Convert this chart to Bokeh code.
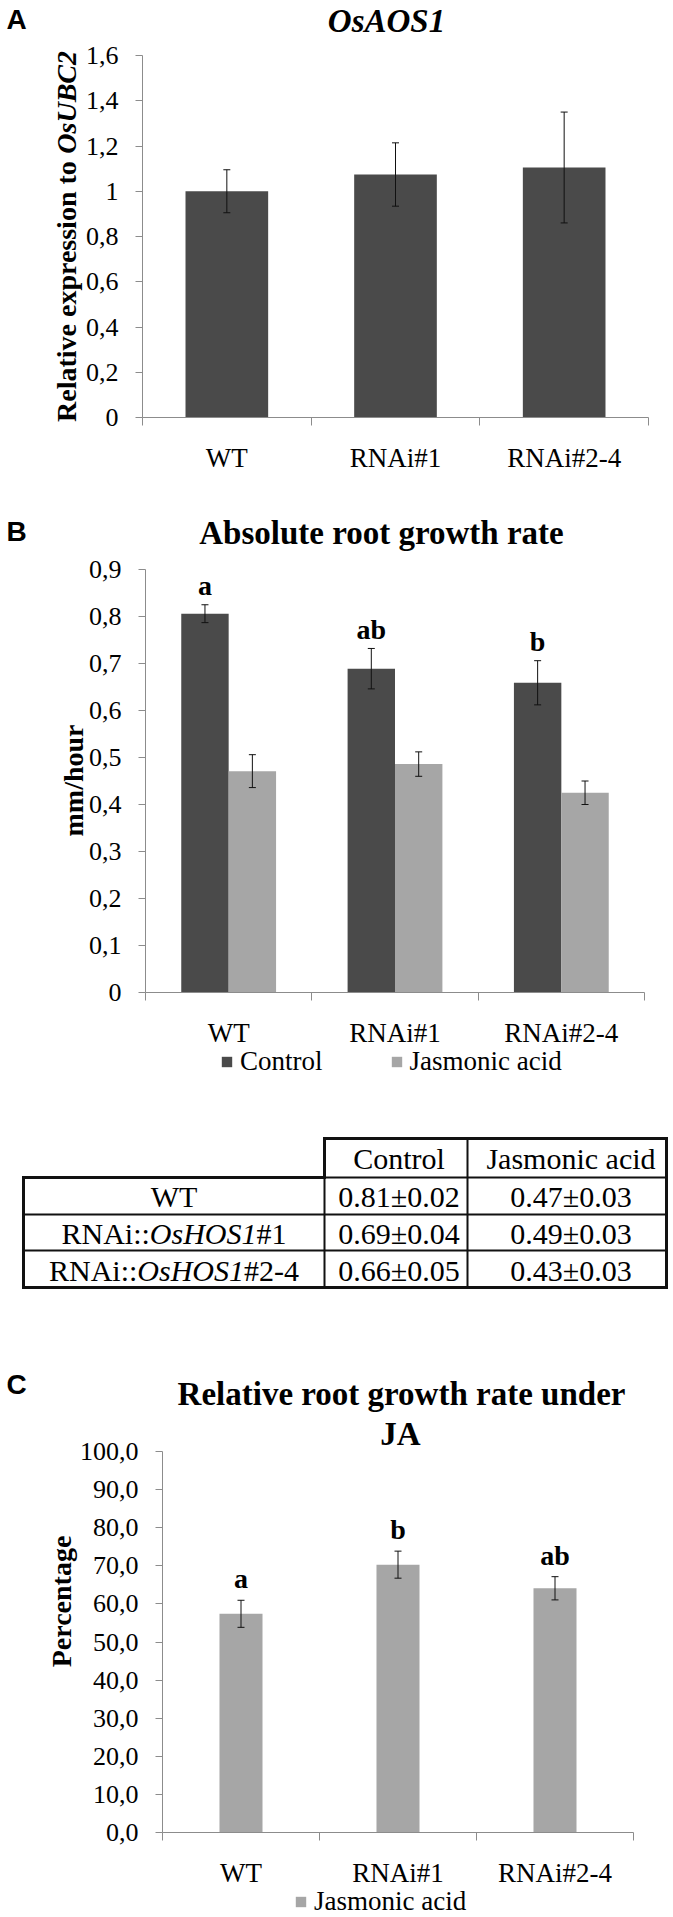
from math import pi
from bokeh.plotting import figure
from bokeh.models import (Range1d, FixedTicker, LinearAxis, Legend, LegendItem,
                          Whisker, TeeHead, ColumnDataSource, Grid)
from bokeh.layouts import column
from bokeh.core.properties import value
from bokeh.embed import file_html
from bokeh.resources import INLINE

# ---------------- data ----------------
categories = ["WT", "RNAi#1", "RNAi#2-4"]

aos1_mean = [1.00, 1.074, 1.105]
aos1_err = [0.095, 0.140, 0.245]
aos1_yticks = [0, 0.2, 0.4, 0.6, 0.8, 1.0, 1.2, 1.4, 1.6]
aos1_ylabels = ["0", "0,2", "0,4", "0,6", "0,8", "1", "1,2", "1,4", "1,6"]

root_control = [0.806, 0.689, 0.659]
root_control_err = [0.019, 0.043, 0.047]
root_ja = [0.471, 0.486, 0.425]
root_ja_err = [0.035, 0.026, 0.025]
root_letters = ["a", "ab", "b"]
root_yticks = [0, 0.1, 0.2, 0.3, 0.4, 0.5, 0.6, 0.7, 0.8, 0.9]
root_ylabels = ["0", "0,1", "0,2", "0,3", "0,4", "0,5", "0,6", "0,7", "0,8", "0,9"]

table_header = ["Control", "Jasmonic acid"]
table_rows = ["WT", "RNAi::OsHOS1#1", "RNAi::OsHOS1#2-4"]
table_gene = "OsHOS1"
table_control = ["0.81\u00b10.02", "0.69\u00b10.04", "0.66\u00b10.05"]
table_ja = ["0.47\u00b10.03", "0.49\u00b10.03", "0.43\u00b10.03"]

rel_mean = [57.4, 70.3, 64.1]
rel_err = [3.55, 3.55, 3.05]
rel_letters = ["a", "b", "ab"]
rel_yticks = [0, 10, 20, 30, 40, 50, 60, 70, 80, 90, 100]
rel_ylabels = ["0,0", "10,0", "20,0", "30,0", "40,0", "50,0", "60,0", "70,0",
               "80,0", "90,0", "100,0"]

# ---------------- style ----------------
W = 673
DARK = "#4a4a4a"
LIGHT = "#a6a6a6"
AXIS = "#8c8c8c"
SERIF = "Liberation Serif"
SANS = "Liberation Sans"
MID = 0.3375  # baseline -> middle of em box (fraction of font size)

# Times-metric widths (per 1000 em) for placing mixed-style text pieces
W_REG = {"R": 667, "N": 722, "A": 722, "i": 278, ":": 278, "#": 500, "1": 500,
         "2": 500, "4": 500, "-": 333, "W": 944, "T": 611}
W_ITA = {"O": 722, "s": 389, "H": 722, "S": 500, "1": 500}
W_BOLD = {"R": 722, "e": 444, "l": 278, "a": 500, "t": 333, "i": 278, "v": 500,
          " ": 250, "x": 500, "p": 556, "r": 444, "s": 389, "o": 500, "n": 556}
W_BI = {"O": 722, "s": 389, "U": 722, "B": 667, "C": 667, "2": 500}


def tw(s, table, size):
    return sum(table[c] for c in s) / 1000.0 * size


N = len(categories)
centers = [i + 0.5 for i in range(N)]
bounds = [float(i) for i in range(N + 1)]


def no_grid(p):
    for g in p.select(type=Grid):
        g.visible = False


def make_panel(off, H, left, right, top, bottom, ymax, yticks, ylabels):
    """Figure whose frame is the whole canvas; the chart area is the page
    rectangle [left,right]x[top,bottom]. Axes are fixed at x=0 and y=0."""
    sx = N / (right - left)
    xr = Range1d(-left * sx, N + (W - right) * sx)
    top_l, bot_l = top - off, bottom - off
    sy = ymax / (bot_l - top_l)
    yr = Range1d(-(H - bot_l) * sy, ymax + top_l * sy)
    p = figure(width=W, height=H, x_range=xr, y_range=yr, toolbar_location=None,
               output_backend="svg", title=None, min_border=0,
               x_axis_location=None, y_axis_location=None)
    p.extra_x_ranges = {"px": Range1d(0, W)}
    p.extra_y_ranges = {"px": Range1d(off + H, off)}
    p.outline_line_color = None
    no_grid(p)
    ya = LinearAxis(fixed_location=0, bounds=(0, ymax),
                    ticker=FixedTicker(ticks=yticks, minor_ticks=[]),
                    major_label_overrides=dict(zip(yticks, ylabels)),
                    axis_line_color=AXIS, major_tick_line_color=AXIS,
                    major_tick_out=7, major_tick_in=0, minor_tick_line_color=None,
                    major_label_text_font=SERIF, major_label_text_font_size="26px",
                    major_label_text_color="black", major_label_standoff=17)
    p.add_layout(ya, "left")
    xa = LinearAxis(fixed_location=0, bounds=(0, N),
                    ticker=FixedTicker(ticks=centers, minor_ticks=bounds),
                    major_label_overrides=dict(zip(centers, categories)),
                    axis_line_color=AXIS, major_tick_line_color=None,
                    major_tick_out=0, major_tick_in=0,
                    minor_tick_line_color=AXIS, minor_tick_out=8, minor_tick_in=0,
                    major_label_text_font=SERIF, major_label_text_font_size="27px",
                    major_label_text_color="black", major_label_standoff=17)
    p.add_layout(xa, "below")
    return p


def ptext(p, xs, ys, texts, size, style="normal", font=SERIF, align="center",
          angle=0.0, baseline=True):
    # ys are alphabetic baselines; drawn with a "middle" anchor
    yy = [y - MID * size for y in ys] if baseline else ys
    p.text(x=xs, y=yy, text=texts, x_range_name="px", y_range_name="px",
           text_font=value(font), text_font_size=f"{size}px",
           text_font_style=style, text_color="black", text_align=align,
           text_baseline="middle", angle=angle)


def add_errors(p, xs, means, errs):
    src = ColumnDataSource(dict(x=xs, upper=[m + e for m, e in zip(means, errs)],
                                lower=[m - e for m, e in zip(means, errs)]))
    wk = Whisker(source=src, base="x", upper="upper", lower="lower",
                 line_color="#111111", line_width=1, level="overlay",
                 upper_head=TeeHead(size=7, line_color="#111111", line_width=1),
                 lower_head=TeeHead(size=7, line_color="#111111", line_width=1))
    p.add_layout(wk)


def add_letters(p, xs, means, errs, letters, gap):
    p.text(x=xs, y=[m + e for m, e in zip(means, errs)], text=letters,
           y_offset=-(gap + MID * 28), text_align="center", text_baseline="middle",
           text_font=value(SERIF), text_font_style="bold", text_font_size="28px",
           text_color="black")


def legend(items, loc):
    return Legend(items=items, orientation="horizontal", location=loc,
                  border_line_color=None, background_fill_alpha=0, padding=0,
                  margin=0, spacing=67, label_standoff=7, glyph_width=13,
                  glyph_height=13, label_text_font=SERIF,
                  label_text_font_size="27px", label_text_color="black")


# ---------------- panel A ----------------
pA = make_panel(0, 480, 142, 648, 55, 417, 1.6, aos1_yticks, aos1_ylabels)
pA.vbar(x=centers, top=aos1_mean, width=0.49, fill_color=DARK, line_color=None)
add_errors(pA, centers, aos1_mean, aos1_err)
ptext(pA, [6], [28], ["A"], 28, style="bold", font=SANS, align="left")
ptext(pA, [386], [32], ["OsAOS1"], 33, style="bold italic")
la1, la2 = "Relative expression to", "OsUBC2"
w1 = tw(la1 + " ", W_BOLD, 28)
y_start = 236 + (w1 + tw(la2, W_BI, 28)) / 2
ptext(pA, [66], [y_start], [la1], 28, style="bold", align="left",
      angle=pi / 2, baseline=False)
ptext(pA, [66], [y_start - w1], [la2], 28, style="bold italic", align="left",
      angle=pi / 2, baseline=False)

# ---------------- panel B ----------------
pB = make_panel(480, 620, 145, 644, 569, 992, 0.9, root_yticks, root_ylabels)
bw = 0.285
xc = [c - bw / 2 for c in centers]
xj = [c + bw / 2 for c in centers]
rc = pB.vbar(x=xc, top=root_control, width=bw, fill_color=DARK, line_color=None)
rj = pB.vbar(x=xj, top=root_ja, width=bw, fill_color=LIGHT, line_color=None)
add_errors(pB, xc, root_control, root_control_err)
add_errors(pB, xj, root_ja, root_ja_err)
add_letters(pB, xc, root_control, root_control_err, root_letters, 10)
ptext(pB, [6], [540], ["B"], 28, style="bold", font=SANS, align="left")
ptext(pB, [381], [544], ["Absolute root growth rate"], 33, style="bold")
ptext(pB, [73], [780], ["mm/hour"], 28, style="bold", angle=pi / 2,
      baseline=False)
pB.add_layout(legend([LegendItem(label="Control", renderers=[rc]),
                      LegendItem(label="Jasmonic acid", renderers=[rj])],
                     (220, 23)))

# ---------------- table ----------------
T0, TH = 1100, 230
pT = figure(width=W, height=TH, x_range=Range1d(0, W),
            y_range=Range1d(T0 + TH, T0), toolbar_location=None,
            output_backend="svg", title=None, x_axis_location=None,
            y_axis_location=None, min_border=0)
pT.outline_line_color = None
no_grid(pT)

TL, C1, C2, TR = 23, 324, 467, 666
H0, R0, R1, R2, R3 = 1138, 1177, 1214, 1250, 1287
thick = [(C1, H0, TR, H0), (TR, H0, TR, R3), (TL, R3, TR, R3), (TL, R0, TL, R3),
         (TL, R0, C1, R0), (C1, H0, C1, R0)]
thin = [(C1, R0, TR, R0), (TL, R1, TR, R1), (TL, R2, TR, R2), (C1, R0, C1, R3),
        (C2, H0, C2, R3)]
for segs, lw in ((thin, 2), (thick, 3)):
    pT.segment(x0=[s[0] for s in segs], y0=[s[1] for s in segs],
               x1=[s[2] for s in segs], y1=[s[3] for s in segs],
               line_color="#111111", line_width=lw, line_cap="square")

TFS = 30
col1c = (TL + C1) / 2
col2c = (C1 + C2) / 2 + 3
col3c = (C2 + TR) / 2 + 4
base_y = [1206, 1243, 1280]


def ttext(xs, ys, texts, align="center", style="normal"):
    pT.text(x=xs, y=[y - MID * TFS for y in ys], text=texts, text_align=align,
            text_baseline="middle", text_font=value(SERIF), text_font_style=style,
            text_font_size=f"{TFS}px", text_color="black")


ttext([col2c, col3c], [1168, 1168], table_header)
ttext([col2c] * 3, base_y, table_control)
ttext([col3c] * 3, base_y, table_ja)
for row, by in zip(table_rows, base_y):
    if table_gene in row:
        pre, post = row.split(table_gene)
        pieces = [(pre, "normal", W_REG), (table_gene, "italic", W_ITA),
                  (post, "normal", W_REG)]
    else:
        pieces = [(row, "normal", W_REG)]
    widths = [tw(s, tab, TFS) for s, _, tab in pieces]
    x0 = col1c - sum(widths) / 2
    for (s, st, _), w in zip(pieces, widths):
        ttext([x0], [by], [s], align="left", style=st)
        x0 += w

# ---------------- panel C ----------------
pC = make_panel(1330, 587, 162, 633, 1451, 1832, 100, rel_yticks, rel_ylabels)
rr = pC.vbar(x=centers, top=rel_mean, width=0.274, fill_color=LIGHT, line_color=None)
add_errors(pC, centers, rel_mean, rel_err)
add_letters(pC, centers, rel_mean, rel_err, rel_letters, 12)
ptext(pC, [6], [1393], ["C"], 28, style="bold", font=SANS, align="left")
ptext(pC, [401], [1405], ["Relative root growth rate under"], 33, style="bold")
ptext(pC, [400], [1445], ["JA"], 33, style="bold")
ptext(pC, [61], [1601], ["Percentage"], 28, style="bold", angle=pi / 2,
      baseline=False)
pC.add_layout(legend([LegendItem(label="Jasmonic acid", renderers=[rr])],
                     (294, 0)))

layout = column(pA, pB, pT, pC, spacing=0)
open("out.html", "w").write(file_html(layout, INLINE))
